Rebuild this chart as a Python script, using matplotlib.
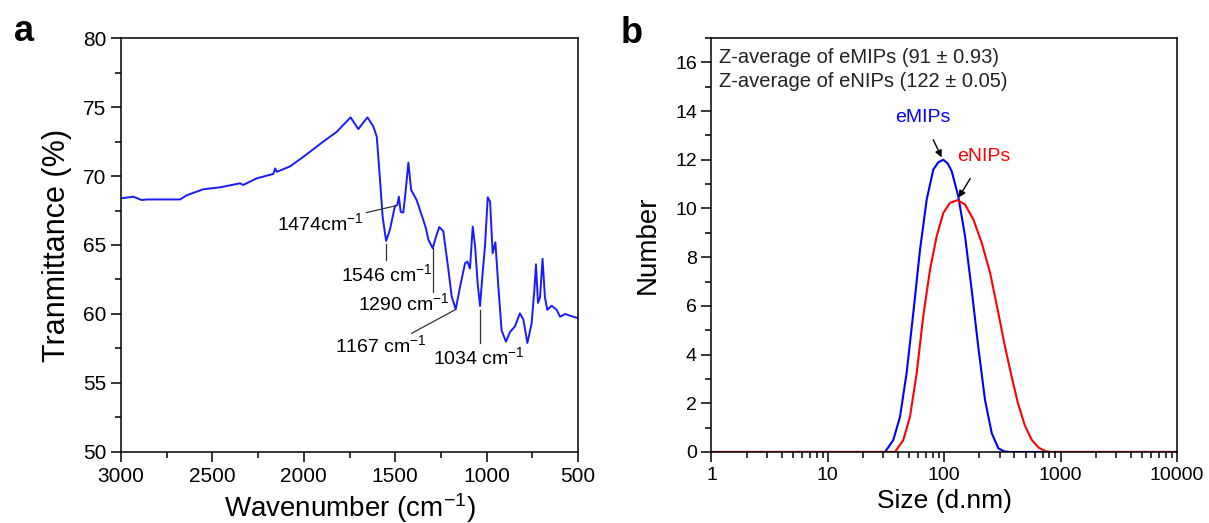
import matplotlib
matplotlib.use('Agg')
import matplotlib.pyplot as plt
from matplotlib.ticker import MultipleLocator, LogLocator, NullFormatter

plt.rcParams['font.family'] = ['Liberation Sans', 'DejaVu Sans']
plt.rcParams['mathtext.fontset'] = 'custom'
plt.rcParams['mathtext.rm'] = 'Liberation Sans'
plt.rcParams['mathtext.it'] = 'Liberation Sans'
plt.rcParams['axes.linewidth'] = 1.1

# FTIR spectrum (panel a)
wavenumber = [3000, 2933, 2887, 2860, 2677, 2641, 2550, 2458, 2349, 2331, 2258, 2167,
              2157, 2148, 2075, 2012, 1966, 1893, 1820, 1784, 1744, 1702, 1652, 1620,
              1601, 1583, 1569, 1550, 1529, 1502, 1489, 1480, 1470, 1456, 1446, 1428,
              1413, 1383, 1346, 1332, 1319, 1295, 1277, 1259, 1237, 1209, 1191, 1169,
              1145, 1118, 1105, 1091, 1076, 1063, 1049, 1036, 1022, 1009, 994, 981,
              967, 952, 936, 918, 894, 872, 845, 818, 799, 777, 754, 739, 730, 719,
              708, 694, 681, 668, 644, 617, 598, 571, 526, 500]
transmittance = [68.38, 68.5, 68.26, 68.3, 68.3, 68.6, 69.04, 69.18, 69.47, 69.35, 69.83, 70.15,
                 70.55, 70.3, 70.7, 71.3, 71.76, 72.5, 73.2, 73.7, 74.25, 73.4, 74.25, 73.6,
                 72.85, 69.7, 67.06, 65.3, 66.1, 67.8, 67.9, 68.5, 67.4, 67.35, 68.5, 70.97,
                 69.0, 68.26, 66.8, 66.2, 65.4, 64.76, 65.6, 66.3, 66.0, 63.2, 61.26, 60.34,
                 62.0, 63.67, 63.8, 63.3, 66.33, 64.9, 62.2, 60.58, 62.95, 64.9, 68.46, 68.14,
                 64.4, 65.2, 62.0, 58.8, 58.0, 58.7, 59.1, 60.05, 59.6, 57.9, 59.3, 61.7, 63.6, 60.8,
                 61.2, 64.0, 61.2, 60.3, 60.6, 60.3, 59.8, 60.0, 59.8, 59.7]

# DLS size distributions (panel b)
emips_size = [1, 31, 36.5, 41.7, 47.5, 54.2, 61.9, 70.7, 80.6, 89, 98.3, 107, 116, 132,
              151, 172, 196, 224, 256, 292, 330, 369, 10000]
emips_num = [0, 0, 0.49, 1.45, 3.24, 5.7, 8.3, 10.37, 11.6, 11.9, 12.0, 11.85, 11.53, 10.5,
             8.86, 6.67, 4.33, 2.14, 0.77, 0.15, 0.02, 0, 0]
enips_size = [1, 37.7, 44.5, 50.8, 58, 66, 75.5, 86.1, 98.3, 112, 130, 151, 178, 210,
              248, 292, 327, 375, 430, 492, 564, 647, 741, 820, 10000]
enips_num = [0, 0, 0.49, 1.45, 3.24, 5.57, 7.49, 8.86, 9.82, 10.23, 10.34, 10.16, 9.55, 8.59,
             7.35, 5.7, 4.5, 3.2, 2.0, 1.1, 0.5, 0.18, 0.03, 0, 0]

fig = plt.figure(figsize=(12.09, 5.23), dpi=100)
ax1 = fig.add_axes([0.1001, 0.1358, 0.378, 0.7915])
ax2 = fig.add_axes([0.5885, 0.1358, 0.3850, 0.7915])

# panel a
ax1.plot(wavenumber, transmittance, color='#1a1aff', lw=1.4)
ax1.set_xlim(3000, 500)
ax1.set_ylim(50, 80)
ax1.xaxis.set_major_locator(MultipleLocator(500))
ax1.xaxis.set_minor_locator(MultipleLocator(250))
ax1.yaxis.set_major_locator(MultipleLocator(5))
ax1.yaxis.set_minor_locator(MultipleLocator(2.5))
ax1.tick_params(which='major', direction='out', length=7, width=1.1, labelsize=15,
                top=False, right=False)
ax1.tick_params(which='minor', direction='out', length=4, width=1.1, top=False, right=False)
ax1.set_xlabel('Wavenumber (cm$^{-1}$)', fontsize=20, labelpad=4)
ax1.set_ylabel('Tranmittance (%)', fontsize=22, labelpad=8)

lc = '#333333'
afs = 14
ax1.annotate('1474cm$^{-1}$', xy=(1496, 67.85), xytext=(1674, 67.35), fontsize=afs,
             ha='right', va='top', arrowprops=dict(arrowstyle='-', color=lc, lw=0.9,
                                                   shrinkA=0, shrinkB=0))
ax1.plot([1550, 1550], [65.1, 63.9], color=lc, lw=0.9)
ax1.text(1547, 63.7, '1546 cm$^{-1}$', fontsize=afs, ha='center', va='top')
ax1.plot([1295, 1295], [64.76, 61.6], color=lc, lw=0.9)
ax1.text(1455, 61.6, '1290 cm$^{-1}$', fontsize=afs, ha='center', va='top')
ax1.plot([1410, 1173], [58.6, 60.3], color=lc, lw=0.9)
ax1.text(1576, 58.5, '1167 cm$^{-1}$', fontsize=afs, ha='center', va='top')
ax1.plot([1036, 1036], [60.3, 57.9], color=lc, lw=0.9)
ax1.text(1043, 57.7, '1034 cm$^{-1}$', fontsize=afs, ha='center', va='top')

# panel b
ax2.plot(emips_size, emips_num, color='#0000ff', lw=1.5)
ax2.plot(enips_size, enips_num, color='#ff0000', lw=1.5)
ax2.set_xscale('log')
ax2.set_xlim(1, 10000)
ax2.set_ylim(0, 17)
ax2.xaxis.set_minor_locator(LogLocator(base=10, subs=range(2, 10), numticks=20))
ax2.xaxis.set_minor_formatter(NullFormatter())
ax2.set_xticks([1, 10, 100, 1000, 10000])
ax2.set_xticklabels(['1', '10', '100', '1000', '10000'])
ax2.yaxis.set_major_locator(MultipleLocator(2))
ax2.yaxis.set_minor_locator(MultipleLocator(1))
ax2.tick_params(which='major', direction='out', length=7, width=1.1, labelsize=14,
                top=False, right=False)
ax2.tick_params(which='minor', direction='out', length=4, width=1.1, top=False, right=False)
ax2.set_xlabel('Size (d.nm)', fontsize=19, labelpad=4)
ax2.set_ylabel('Number', fontsize=20, labelpad=10)

ax2.text(0.017, 0.975, 'Z-average of eMIPs (91 \u00b1 0.93)\nZ-average of eNIPs (122 \u00b1 0.05)',
         transform=ax2.transAxes, fontsize=14.5, ha='left', va='top', linespacing=1.3,
         color='#222222')
ax2.annotate('eMIPs', xy=(95, 12.1), xytext=(65, 13.75), color='#0000ff', fontsize=14,
             ha='center', va='center',
             arrowprops=dict(arrowstyle='-|>', color='black', lw=1, shrinkA=9, shrinkB=0,
                             mutation_scale=10))
ax2.annotate('eNIPs', xy=(133, 10.45), xytext=(218, 12.13), color='#ff0000', fontsize=14,
             ha='center', va='center',
             arrowprops=dict(arrowstyle='-|>', color='black', lw=1, shrinkA=9, shrinkB=0,
                             mutation_scale=10))

fig.text(0.0116, 0.922, 'a', fontsize=26, fontweight='bold', va='baseline')
fig.text(0.5136, 0.918, 'b', fontsize=26, fontweight='bold', va='baseline')

plt.savefig('out.png', dpi=100)
plt.close()
